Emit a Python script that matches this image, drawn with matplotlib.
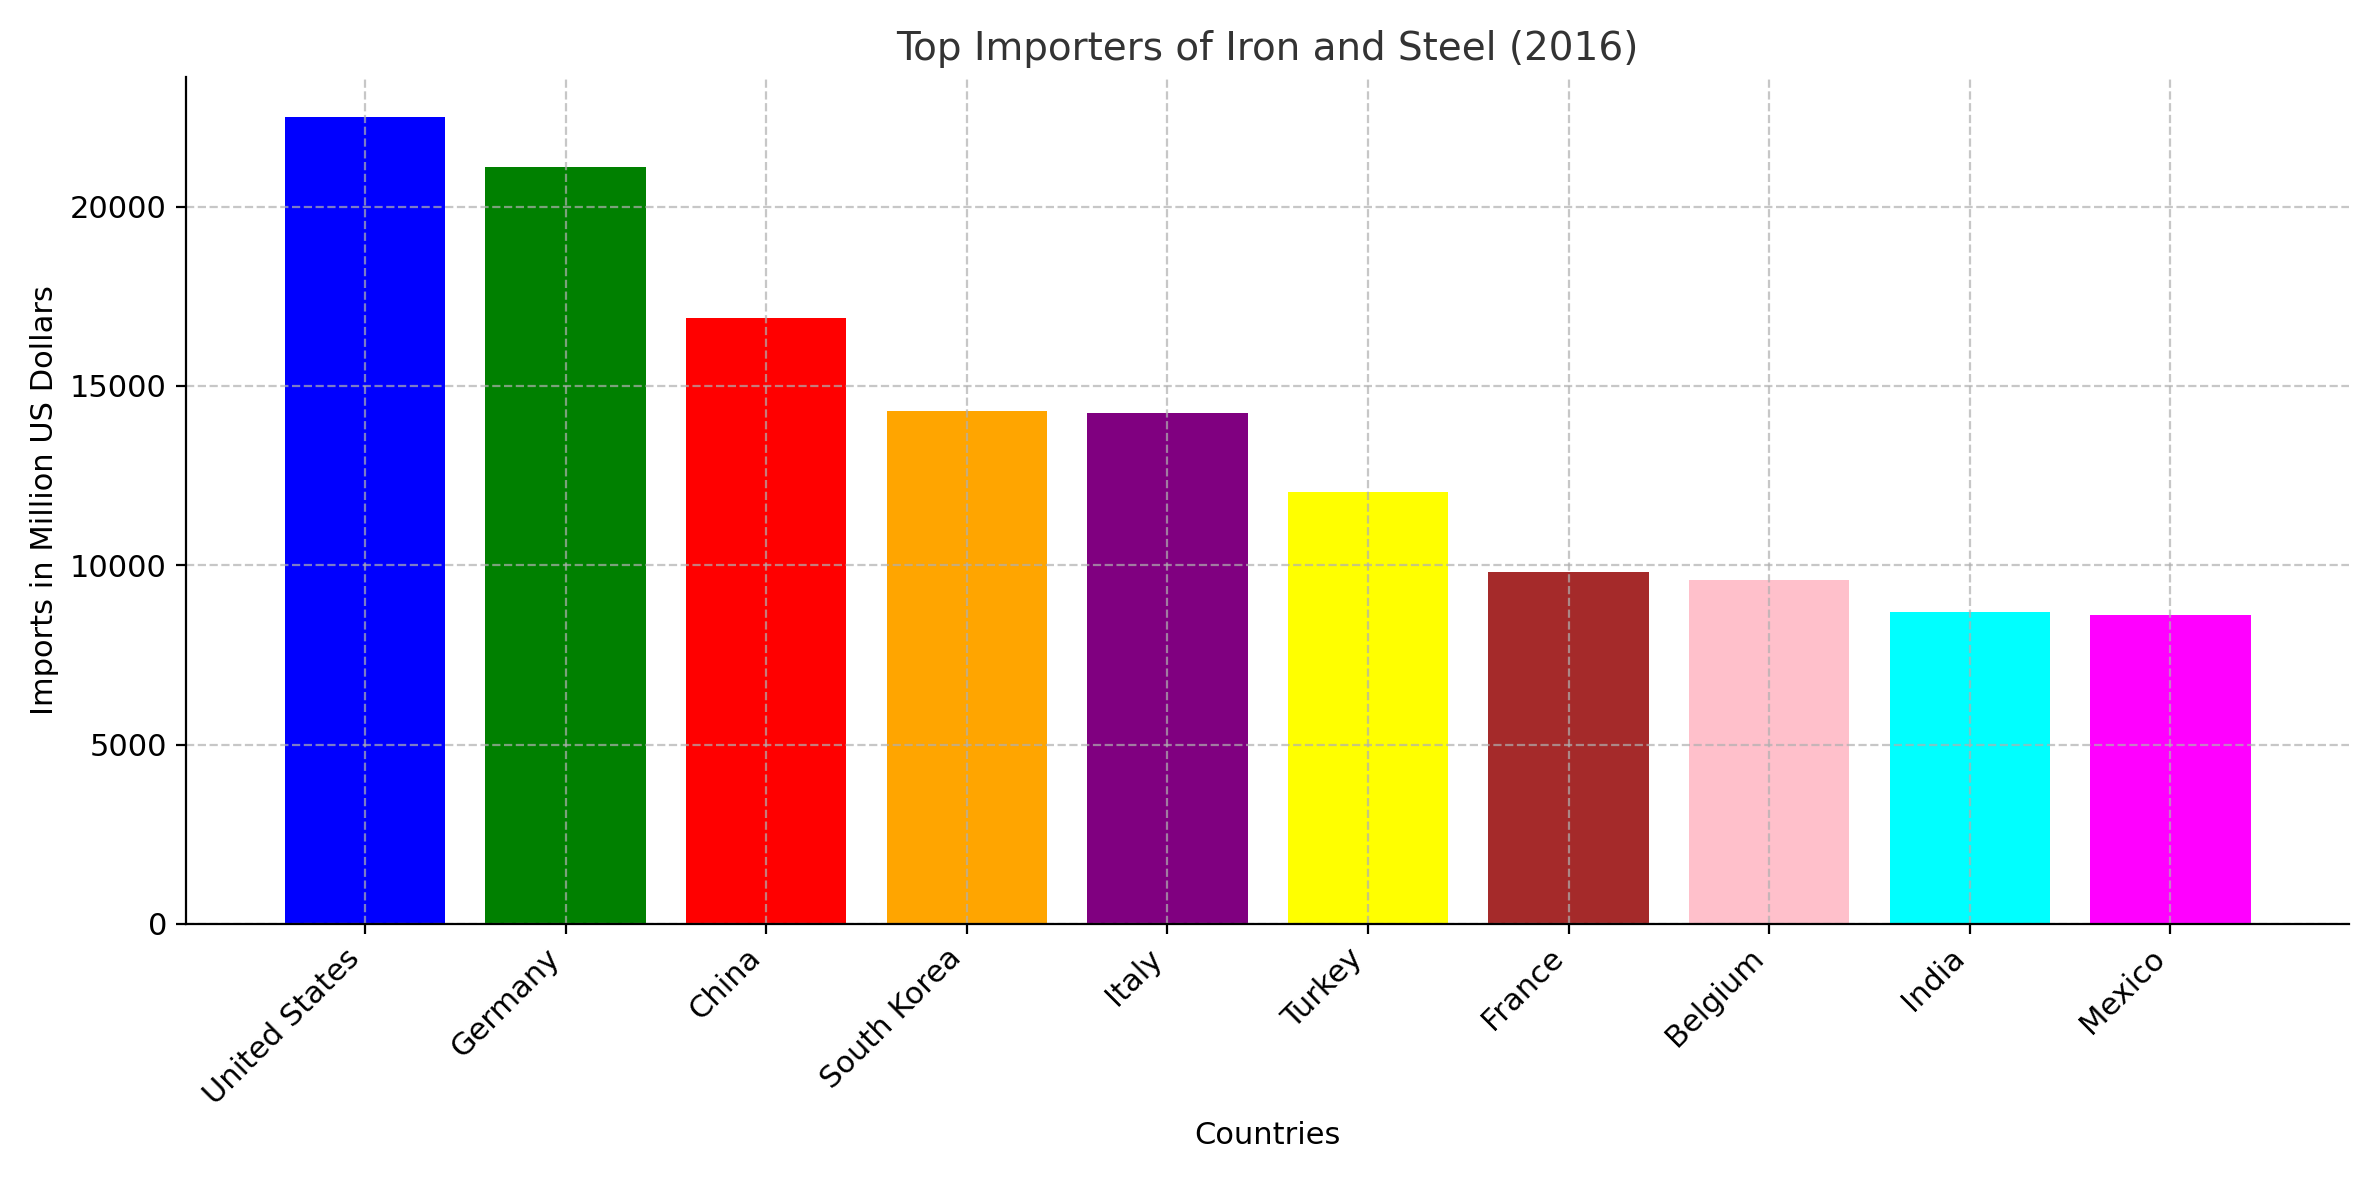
import matplotlib.pyplot as plt

countries = ["United States", "Germany", "China", "South Korea", "Italy",
             "Turkey", "France", "Belgium", "India", "Mexico"]
imports = [22500, 21100, 16900, 14300, 14250, 12050, 9800, 9600, 8700, 8600]
colors = ["blue", "green", "red", "orange", "purple",
          "yellow", "brown", "pink", "cyan", "magenta"]

fig, ax = plt.subplots(figsize=(11.895, 5.9), dpi=200)
ax.bar(countries, imports, color=colors)
ax.set_title("Top Importers of Iron and Steel (2016)", fontsize=14, color="#333333")
ax.set_xlabel("Countries", fontsize=11)
ax.set_ylabel("Imports in Million US Dollars", fontsize=11)
plt.xticks(rotation=45, ha="right", fontsize=11)
plt.yticks(fontsize=11)
ax.grid(True, linestyle="--", alpha=0.7)
ax.spines["top"].set_visible(False)
ax.spines["right"].set_visible(False)
plt.tight_layout()
plt.savefig("out.png")
